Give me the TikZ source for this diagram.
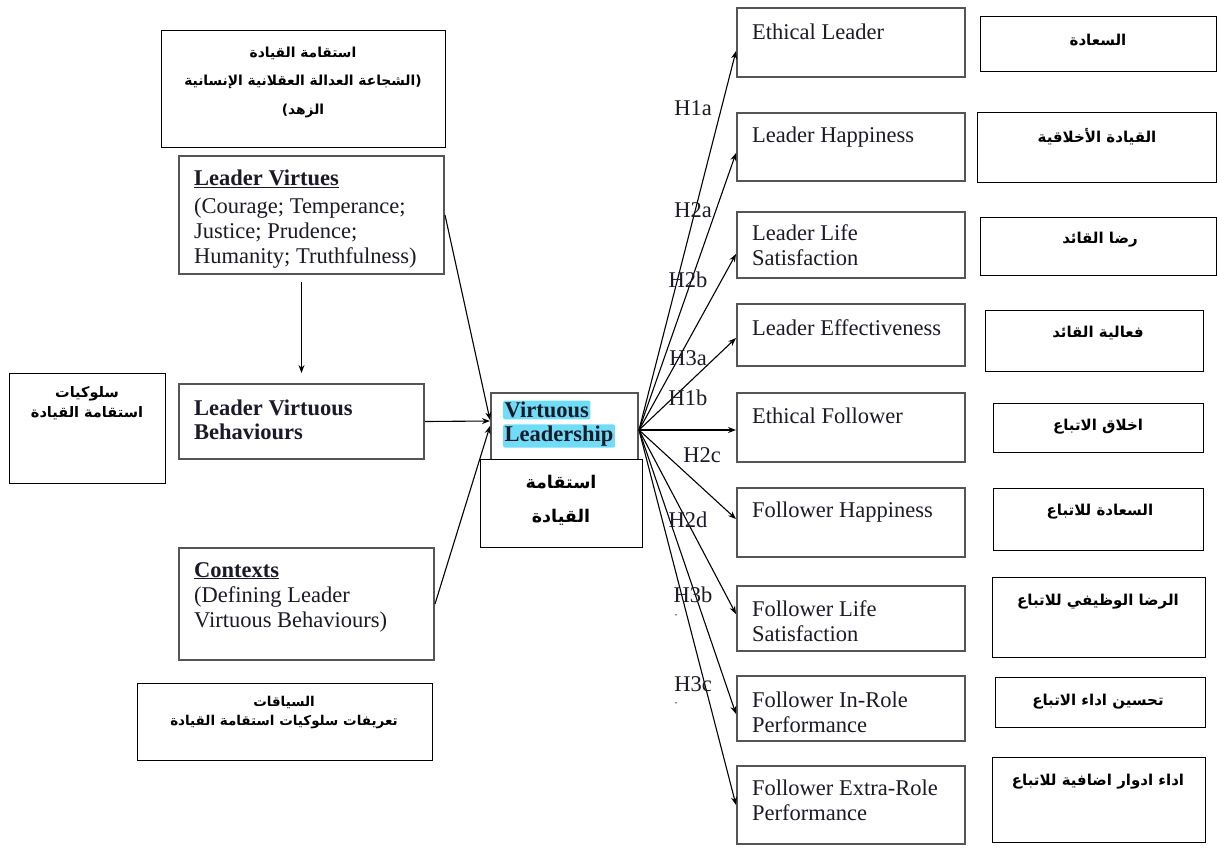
\documentclass[tikz,border=0pt]{standalone}
\usepackage{fontspec}
\setmainfont{Liberation Serif}
\newfontfamily\arabicfont[Script=Arabic]{DejaVu Sans}
\TeXXeTstate=1
\usetikzlibrary{arrows.meta}
\definecolor{hl}{HTML}{6FDDF7}
\definecolor{ink}{HTML}{1A1A28}
\definecolor{frame}{HTML}{555555}
\begin{document}
\begin{tikzpicture}[x=1pt,y=-1pt,
 ebox/.style={draw=frame,line width=2pt,anchor=north west,inner sep=0pt},
 abox/.style={draw=black,line width=1.1pt,anchor=north west,inner sep=0pt,fill=white},
 etxt/.style={anchor=west,text=ink,font=\fontsize{22.5}{25}\selectfont,align=left,inner sep=0pt},
 atxt/.style={font=\arabicfont\bfseries\fontsize{15}{20}\selectfont,align=center,inner sep=0pt},
 hlab/.style={text=ink,font=\fontsize{22.5}{25}\selectfont,inner sep=0pt},
 hlt/.style={anchor=west,fill=hl,rounded corners=2pt,inner sep=1.5pt,text=ink,font=\bfseries\fontsize{22.5}{25}\selectfont},
 arr/.style={-{Stealth[length=8pt,width=6pt]},line width=1.1pt}]
\useasboundingbox (0,0) rectangle (1217,847);
\fill[white] (0,0) rectangle (1217,847);

% ---------- left English boxes ----------
\node[ebox,minimum width=265pt,minimum height=118pt] (lv) at (178,155) {};
\node[etxt] (lvt) at (194,219) {\textbf{\underline{Leader Virtues}}\\[3pt](Courage; Temperance;\\Justice; Prudence;\\Humanity; Truthfulness)};
\node[ebox,minimum width=245pt,minimum height=75pt] (lvb) at (178,383) {};
\node[etxt,font=\bfseries\fontsize{22.5}{24}\selectfont] (lvbt) at (194,420) {Leader Virtuous\\Behaviours};
\node[ebox,minimum width=255pt,minimum height=112pt] (ctx) at (178,547) {};
\node[etxt] (ctxt) at (194,597) {\textbf{\underline{Contexts}}\\(Defining Leader\\Virtuous Behaviours)};

% ---------- centre ----------
\node[ebox,minimum width=147pt,minimum height=74pt] (vl) at (490,392) {};
\node[hlt] (vl1) at (503,410) {Virtuous};
\node[hlt] (vl2) at (503,436) {Leadership};

% ---------- right English boxes ----------
\node[ebox,minimum width=228pt,minimum height=69pt] (el) at (736,7) {};
\node[ebox,minimum width=228pt,minimum height=68pt] (lh) at (736,112) {};
\node[ebox,minimum width=228pt,minimum height=66pt] (ls) at (736,211) {};
\node[ebox,minimum width=228pt,minimum height=62pt] (le) at (736,303) {};
\node[ebox,minimum width=228pt,minimum height=69pt] (ef) at (736,392) {};
\node[ebox,minimum width=228pt,minimum height=69pt] (fh) at (736,487) {};
\node[ebox,minimum width=228pt,minimum height=65pt] (fs) at (736,585) {};
\node[ebox,minimum width=228pt,minimum height=65pt] (fi) at (736,675) {};
\node[ebox,minimum width=228pt,minimum height=78pt] (fx) at (736,765) {};
\node[etxt] (elt) at (752,32) {Ethical Leader};
\node[etxt] (lht) at (752,137) {Leader Happiness};
\node[etxt] (lst) at (752,245) {Leader Life\\Satisfaction};
\node[etxt] (let) at (752,328) {Leader Effectiveness};
\node[etxt] (eft) at (752,416) {Ethical Follower};
\node[etxt] (fht) at (752,512) {Follower Happiness};
\node[etxt] (fst) at (752,621) {Follower Life\\Satisfaction};
\node[etxt] (fit) at (752,712) {Follower In-Role\\Performance};
\node[etxt] (fxt) at (752,800) {Follower Extra-Role\\Performance};

% ---------- arrows ----------
\draw[arr] (lv.east) -- ([yshift=10pt]vl.west);
\draw[arr] (lvb.east) -- ([yshift=9pt]vl.west);
\draw[arr] (ctx.east) -- ([yshift=4pt]vl.west);
\draw[arr,shorten <=7pt,shorten >=10pt] (lvb.north |- lv.south) -- (lvb.north);

\draw[arr] (vl.east) -- ([yshift=-8.5pt]el.west);
\draw[arr] (vl.east) -- ([yshift=-6pt]lh.west);
\draw[arr] (vl.east) -- ([yshift=-9pt]ls.west);
\draw[arr] (vl.east) -- ([yshift=-3pt]le.west);
\draw[arr] (vl.east) -- (vl.east -| ef.west);
\draw[arr] (vl.east) -- ([yshift=3.5pt]fh.west);
\draw[arr] (vl.east) -- ([yshift=4.5pt]fs.west);
\draw[arr] (vl.east) -- ([yshift=-5.5pt]fi.west);
\draw[arr] (vl.east) -- (fx.west);

% ---------- hypothesis labels ----------
\node[hlab] (h1a) at (693,108) {H1a};
\node[hlab] (h2a) at (693,210) {H2a};
\node[hlab] (h2b) at (688,280) {H2b};
\node[hlab] (h3a) at (688,358) {H3a};
\node[hlab] (h1b) at (688,398) {H1b};
\node[hlab] (h2c) at (702,455) {H2c};
\node[hlab] (h2d) at (688,520) {H2d};
\node[hlab] (h3b) at (693,595) {H3b};
\node[hlab,font=\fontsize{9}{9}\selectfont] (d1) at (676,616) {-};
\node[hlab] (h3c) at (693,684) {H3c};
\node[hlab,font=\fontsize{9}{9}\selectfont] (d2) at (676,704) {-};

% ---------- Arabic boxes ----------
\node[abox,minimum width=284pt,minimum height=117pt] (atl) at (161,30) {};
\node[atxt,font=\arabicfont\bfseries\fontsize{13.8}{28.5}\selectfont] (atlt) at (303,82) {\beginR استقامة القيادة\endR\\\beginR (الشجاعة العدالة العقلانية الإنسانية\endR\\\beginR الزهد)\endR};
\node[abox,minimum width=156pt,minimum height=110pt] (alf) at (9,373) {};
\node[atxt,font=\arabicfont\bfseries\fontsize{14.5}{20}\selectfont] (alft) at (87,403) {\beginR سلوكيات\endR\\\beginR استقامة القيادة\endR};
\node[abox,minimum width=295pt,minimum height=77pt] (abt) at (137,683) {};
\node[atxt,font=\arabicfont\bfseries\fontsize{13.5}{19}\selectfont] (abtt) at (284,712.5) {\beginR السياقات\endR\\\beginR تعريفات سلوكيات استقامة القيادة\endR};
\node[abox,minimum width=162pt,minimum height=88pt] (acn) at (480,459) {};
\node[atxt,font=\arabicfont\bfseries\fontsize{17.5}{34}\selectfont] (acnt) at (561,500) {\beginR استقامة\endR\\\beginR القيادة\endR};

\node[abox,minimum width=236pt,minimum height=55pt] (r1) at (980,16) {};
\node[atxt] (r1t) at (1098,40) {\beginR السعادة\endR};
\node[abox,minimum width=239pt,minimum height=70pt] (r2) at (977,112) {};
\node[atxt] (r2t) at (1097,137) {\beginR القيادة الأخلاقية\endR};
\node[abox,minimum width=236pt,minimum height=58pt] (r3) at (980,217) {};
\node[atxt] (r3t) at (1100,240) {\beginR رضا القائد\endR};
\node[abox,minimum width=218pt,minimum height=61pt] (r4) at (985,310) {};
\node[atxt] (r4t) at (1098,333) {\beginR فعالية القائد\endR};
\node[abox,minimum width=210pt,minimum height=49pt] (r5) at (993,403) {};
\node[atxt] (r5t) at (1098,427) {\beginR اخلاق الاتباع\endR};
\node[abox,minimum width=210pt,minimum height=62pt] (r6) at (993,488) {};
\node[atxt] (r6t) at (1100,512) {\beginR السعادة للاتباع\endR};
\node[abox,minimum width=213pt,minimum height=80pt] (r7) at (992,577) {};
\node[atxt] (r7t) at (1098,602) {\beginR الرضا الوظيفي للاتباع\endR};
\node[abox,minimum width=210pt,minimum height=50pt] (r8) at (995,677) {};
\node[atxt] (r8t) at (1098,702) {\beginR تحسين اداء الاتباع\endR};
\node[abox,minimum width=213pt,minimum height=85pt] (r9) at (992,757) {};
\node[atxt] (r9t) at (1098,782) {\beginR اداء ادوار اضافية للاتباع\endR};
\end{tikzpicture}
\end{document}
